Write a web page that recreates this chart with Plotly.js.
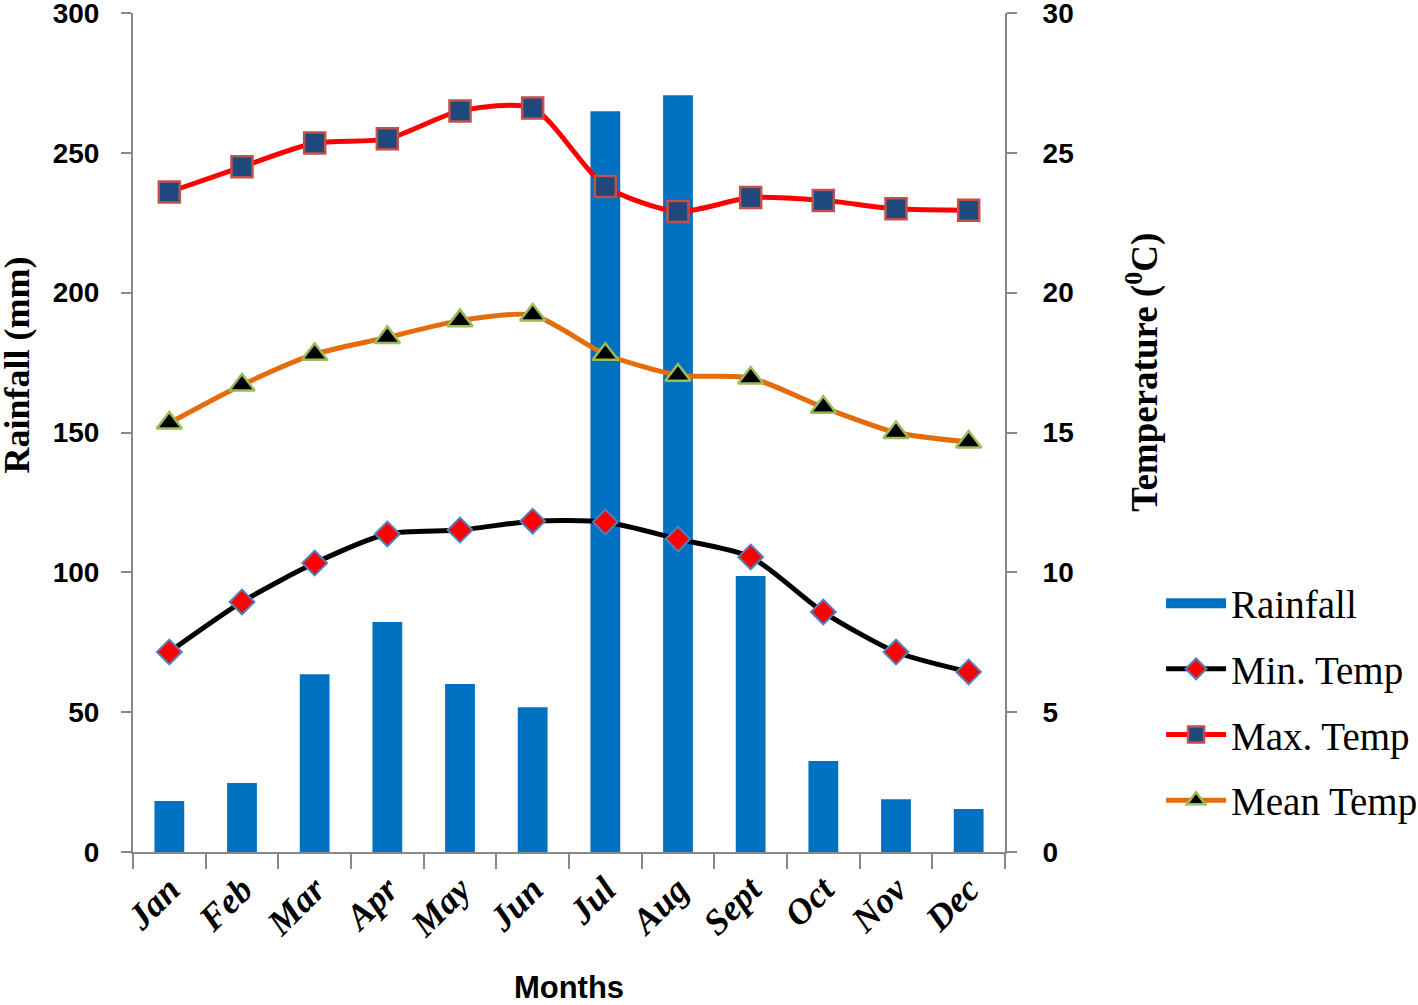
<!DOCTYPE html>
<html>
<head>
<meta charset="utf-8">
<script src="https://cdn.plot.ly/plotly-3.0.1.min.js"></script>
<style>body{margin:0;background:#fff;} #chart{width:1418px;height:1005px;}</style>
</head>
<body>
<div id="chart"></div>
<script>
// months
var months = ["Jan","Feb","Mar","Apr","May","Jun","Jul","Aug","Sept","Oct","Nov","Dec"];
// rainfall (mm)
var rainfall = [18.2, 24.7, 63.6, 82.2, 60.1, 51.8, 264.9, 270.6, 98.7, 32.5, 18.9, 15.4];
// temperatures (C)
var minTemp = [7.15, 8.94, 10.33, 11.37, 11.51, 11.83, 11.8, 11.19, 10.55, 8.58, 7.15, 6.44];
var maxTemp = [23.6, 24.5, 25.35, 25.5, 26.5, 26.6, 23.8, 22.9, 23.4, 23.3, 23.0, 22.95];
var meanTemp = [15.34, 16.7, 17.8, 18.4, 19.0, 19.2, 17.8, 17.05, 16.95, 15.9, 15.0, 14.66];

var bold = "Liberation Sans, Arial, sans-serif";
var serif = "Liberation Serif, Times New Roman, serif";

var traces = [
  {x: months, y: rainfall, type: "bar", name: "Rainfall", showlegend: false,
   marker: {color: "#0070C0"}, width: 0.41},
  // legend entry only (wide blue key like the original)
  {x: [null], y: [null], type: "scatter", mode: "lines", name: "Rainfall", legendgroup: "a",
   line: {color: "#0070C0", width: 20}},
  {x: months, y: minTemp, yaxis: "y2", type: "scatter", mode: "lines+markers", name: "Min. Temp", legendgroup: "b",
   line: {color: "#000000", width: 5, shape: "spline", smoothing: 0.7},
   marker: {symbol: "diamond", size: 19, color: "#FF0000", line: {color: "#4F81BD", width: 2}}},
  {x: months, y: maxTemp, yaxis: "y2", type: "scatter", mode: "lines+markers", name: "Max. Temp", legendgroup: "c",
   line: {color: "#FF0000", width: 5, shape: "spline", smoothing: 0.7},
   marker: {symbol: "square", size: 21, color: "#1F497D", line: {color: "#C0504D", width: 2.5}}},
  {x: months, y: meanTemp, yaxis: "y2", type: "scatter", mode: "lines+markers", name: "Mean Temp", legendgroup: "d",
   line: {color: "#E46C0A", width: 5, shape: "spline", smoothing: 0.7},
   marker: {symbol: "triangle-up", size: 22, color: "#000000", line: {color: "#9BBB59", width: 2.5}}}
];

var layout = {
  width: 1418, height: 1005,
  margin: {l: 133, r: 413, t: 13, b: 153, autoexpand: false},
  paper_bgcolor: "#fff", plot_bgcolor: "#fff",
  showlegend: true,
  legend: {x: 1.179, xanchor: "left", y: 0.179, yanchor: "middle",
           font: {family: serif, size: 39, color: "#000"}, tracegroupgap: 12,
           traceorder: "grouped", itemwidth: 60},
  xaxis: {
    type: "category", range: [-0.5, 11.5], tickson: "boundaries", ticks: "outside", ticklen: 15, tickcolor: "#888",
    showline: true, linecolor: "#888", linewidth: 2, tickwidth: 2,
    tickangle: -45, tickfont: {family: serif, size: 36, color: "#000", weight: "bold", style: "italic"},
    title: {text: "Months", font: {family: bold, size: 31, color: "#000", weight: "bold"}, standoff: 34},
    showgrid: false, zeroline: false
  },
  yaxis: {
    range: [0, 300], dtick: 50, ticks: "outside", ticklen: 10, tickcolor: "#888", tickwidth: 2,
    showline: true, linecolor: "#888", linewidth: 2, showgrid: false, zeroline: false,
    ticklabeloverflow: "allow",
    tickfont: {family: bold, size: 28, color: "#000", weight: "bold"}, ticklabelstandoff: 16
  },
  yaxis2: {
    range: [0, 30], dtick: 5, overlaying: "y", side: "right", ticks: "outside", ticklen: 10,
    tickcolor: "#888", tickwidth: 2, showline: true, linecolor: "#888", linewidth: 2,
    showgrid: false, zeroline: false, ticklabeloverflow: "allow",
    tickfont: {family: bold, size: 28, color: "#000", weight: "bold"}, ticklabelstandoff: 20
  },
  annotations: [
    {text: "Rainfall (mm)", textangle: -90, xref: "paper", yref: "paper", x: -0.133, y: 0.58,
     xanchor: "center", yanchor: "middle", showarrow: false,
     font: {family: serif, size: 36, color: "#000", weight: "bold"}},
    {text: "Temperature (<sup>0</sup>C)", textangle: -90, xref: "paper", yref: "paper", x: 1.158, y: 0.572,
     xanchor: "center", yanchor: "middle", showarrow: false,
     font: {family: serif, size: 37, color: "#000", weight: "bold"}}
  ]
};

Plotly.newPlot("chart", traces, layout, {displayModeBar: false});
</script>
</body>
</html>
